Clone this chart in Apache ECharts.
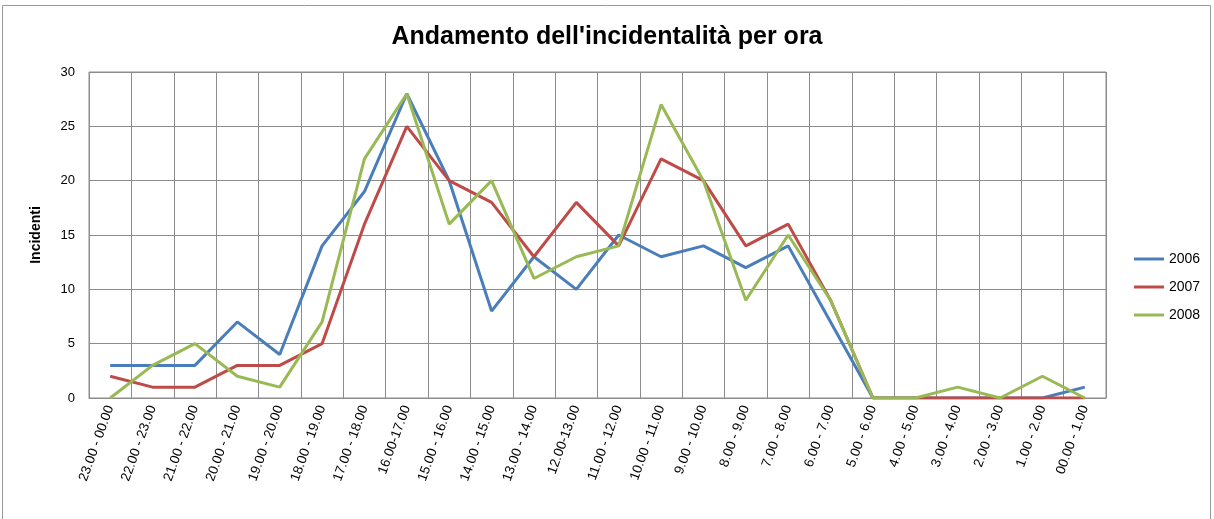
<!DOCTYPE html>
<html>
<head>
<meta charset="utf-8">
<script src="https://cdn.jsdelivr.net/npm/echarts@6/dist/echarts.min.js"></script>
<style>
  html, body { margin: 0; padding: 0; background: #fff; }
  #chart { width: 1214px; height: 519px; }
</style>
</head>
<body>
<div id="chart"></div>
<script>
// fasce orarie (come nel foglio originale)
const fasce = ['23.00 - 00.00', '22.00 - 23.00', '21.00 - 22.00', '20.00 - 21.00', '19.00 - 20.00',
  '18.00 - 19.00', '17.00 - 18.00', '16.00-17.00', '15.00 - 16.00', '14.00 - 15.00', '13.00 - 14.00',
  '12.00-13.00', '11.00 - 12.00', '10.00 - 11.00', '9.00 - 10.00', '8.00 - 9.00', '7.00 - 8.00',
  '6.00 - 7.00', '5.00 - 6.00', '4.00 - 5.00', '3.00 - 4.00', '2.00 - 3.00', '1.00 - 2.00', '00.00 - 1.00'];

const anno2006 = [3, 3, 3, 7, 4, 14, 19, 28, 20, 8, 13, 10, 15, 13, 14, 12, 14, 7, 0, 0, 0, 0, 0, 1];
const anno2007 = [2, 1, 1, 3, 3, 5, 16, 25, 20, 18, 13, 18, 14, 22, 20, 14, 16, 9, 0, 0, 0, 0, 0, 0];
const anno2008 = [0, 3, 5, 2, 1, 7, 22, 28, 16, 20, 11, 13, 14, 27, 20, 9, 15, 9, 0, 0, 1, 0, 2, 0];

const anni = ['2006', '2007', '2008'];
const colori = ['#4a7ebb', '#be4b48', '#98b954'];
const valori = [anno2006, anno2007, anno2008];

const font = 'Liberation Sans Narrow, Liberation Sans, sans-serif';
const grigio = '#8c8c8c';

const myChart = echarts.init(document.getElementById('chart'), null, { renderer: 'canvas' });

const option = {
  animation: false,
  backgroundColor: '#fff',
  title: {
    text: "Andamento dell'incidentalità per ora",
    left: 'center',
    top: 20,
    textStyle: { fontFamily: font, fontSize: 25, fontWeight: 'bold', color: '#000' }
  },
  legend: {
    orient: 'vertical',
    left: 1129,
    top: 247,
    itemWidth: 30,
    itemHeight: 3,
    itemGap: 14,
    icon: 'rect',
    textStyle: { fontFamily: font, fontSize: 14, color: '#000' },
    data: anni
  },
  graphic: [{
    type: 'rect',
    shape: { x: 2.5, y: 5.5, width: 1208, height: 520 },
    style: { fill: 'none', stroke: '#999', lineWidth: 1 }
  }],
  grid: {
    left: 89, top: 72, width: 1017, height: 326,
    show: true, borderColor: grigio, borderWidth: 1
  },
  xAxis: {
    type: 'category',
    data: fasce,
    boundaryGap: true,
    axisLine: { lineStyle: { color: grigio } },
    axisTick: { show: false },
    splitLine: { show: true, interval: 0, lineStyle: { color: grigio, width: 1 } },
    axisLabel: {
      interval: 0, rotate: 70, margin: 8,
      fontFamily: font, fontSize: 13.5, color: '#000'
    }
  },
  yAxis: {
    type: 'value',
    min: 0, max: 30, interval: 5,
    name: 'Incidenti',
    nameLocation: 'middle',
    nameGap: 46,
    nameTextStyle: { fontFamily: font, fontSize: 14, fontWeight: 'bold', color: '#000' },
    axisLine: { show: false },
    axisTick: { show: false },
    splitLine: { lineStyle: { color: grigio, width: 1 } },
    axisLabel: { fontFamily: font, fontSize: 13, color: '#000', margin: 14 }
  },
  series: anni.map((anno, i) => ({
    name: anno,
    type: 'line',
    data: valori[i],
    symbol: 'none',
    color: colori[i],
    lineStyle: { width: 3, color: colori[i] }
  }))
};

myChart.setOption(option);
</script>
</body>
</html>
